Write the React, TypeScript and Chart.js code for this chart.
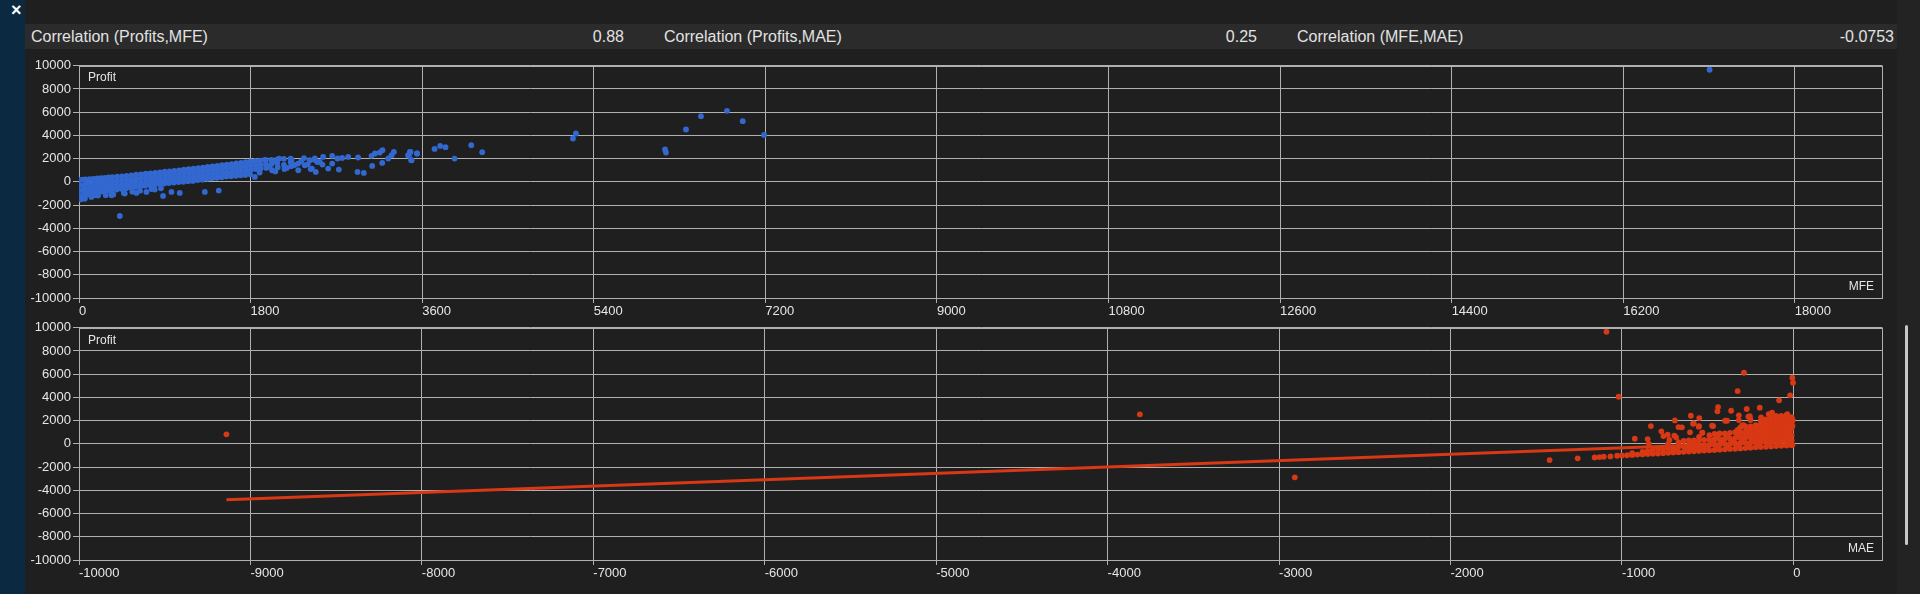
import React, { useEffect, useRef } from "react";
import { Chart, registerables } from "chart.js";

Chart.register(...registerables);

// ---------------- DATA ----------------
const correlationLabels = ["Correlation (Profits,MFE)", "Correlation (Profits,MAE)", "Correlation (MFE,MAE)"];
const correlationValues = ["0.88", "0.25", "-0.0753"];

const profitRange = [-10000, 10000];
const profitTickValues = [-10000, -8000, -6000, -4000, -2000, 0, 2000, 4000, 6000, 8000, 10000];
const mfeRange = [0, 18920];
const mfeTickValues = [0, 1800, 3600, 5400, 7200, 9000, 10800, 12600, 14400, 16200, 18000];
const maeRange = [-10000, 520];
const maeTickValues = [-10000, -9000, -8000, -7000, -6000, -5000, -4000, -3000, -2000, -1000, 0];

// MFE vs Profit: dense band
const mfeBand: [number, number][] = [
  [0,180],[0,-250],[0,-700],[5,-1150],[20,-1500],
  [40,190],[40,-300],[45,-760],[50,-1220],
  [70,210],[75,-190],[70,-640],[80,-1090],[60,-1440],
  [110,235],[110,-220],[115,-610],[105,-1010],[130,-1300],
  [150,255],[150,-150],[155,-540],[150,-950],
  [190,290],[190,-120],[195,-500],[185,-900],[200,-1180],
  [230,310],[230,-80],[235,-470],[225,-850],
  [270,345],[270,-40],[275,-420],[265,-800],[280,-1150],
  [310,380],[310,0],[315,-380],[305,-760],
  [350,400],[350,30],[355,-340],[345,-720],[360,-1080],
  [400,445],[400,60],[405,-300],[395,-660],
  [450,475],[450,100],[455,-250],[445,-600],[470,-950],
  [500,520],[500,150],[505,-200],[495,-550],
  [550,560],[550,190],[555,-150],[545,-480],[560,-850],
  [600,615],[600,250],[605,-100],[595,-420],
  [650,650],[650,300],[655,-60],[645,-380],[640,-760],
  [700,700],[700,340],[705,0],[695,-330],
  [750,735],[750,380],[755,40],[745,-280],[760,-620],
  [800,780],[800,430],[805,90],[795,-230],
  [850,820],[850,480],[855,130],[845,-180],[860,-560],
  [900,870],[900,520],[905,180],[895,-140],
  [950,910],[950,560],[955,220],[945,-100],
  [1000,950],[1000,620],[1005,270],[995,-60],
  [1050,990],[1050,660],[1055,320],[1045,-20],
  [1100,1050],[1100,700],[1105,360],[1095,10],
  [1150,1090],[1150,750],[1155,410],[1145,60],
  [1200,1130],[1200,800],[1205,450],[1195,80],
  [1250,1180],[1250,850],[1255,500],[1245,150],
  [1300,1230],[1300,900],[1305,550],[1295,190],
  [1350,1280],[1350,950],[1355,600],[1345,260],
  [1400,1330],[1400,1000],[1405,650],[1395,300],
  [1450,1380],[1450,1050],[1455,700],[1445,350],
  [1500,1430],[1500,1100],[1505,750],[1495,400],
  [1550,1480],[1550,1150],[1555,800],[1545,450],
  [1600,1530],[1600,1200],[1605,850],[1595,480],
  [1650,1580],[1650,1250],[1655,900],[1645,520],
  [1700,1640],[1700,1300],[1705,950],[1695,560],
  [1750,1690],[1750,1350],[1755,1000],[1745,600],
  [1800,1750],[1800,1400],[1805,1050],[1795,650],
  [1850,1800],[1850,1450],[1855,1100],[1845,420],
  [1900,1830],[1900,1500],[1905,1150],[1895,800],
  [1960,1860],[1960,1500],[1965,1200],
  [2020,1900],[2020,1550],[2025,1000],
  [2080,1930],[2080,1600],[2085,1250],
  [2150,1980],[2150,1450],[2155,1100],
  [2220,2000],[2220,1700],[2225,1350],
];

// MFE vs Profit: lower fringe under the band
const mfeFringe: [number, number][] = [
  [60,-1440],[165,-1155],[340,-1155],[480,-1010],[602,-955],[707,-870],
  [795,-665],[882,-1215],[970,-870],[1057,-955],[1320,-870],[1466,-750],[428,-2940],
];

// MFE vs Profit: scattered points beyond the band
const mfeSparse: [number, number][] = [
  [1950,1900],[2000,1350],[2030,1750],[2060,900],[2100,2000],[2180,1200],[2230,1900],
  [2260,1450],[2300,1000],[2330,1750],[2360,2050],[2400,1500],[2430,1100],[2470,1900],[2500,1700],
  [2298,1575],[2368,1430],[2421,1860],[2443,1145],[2474,2010],[2484,855],[2526,1715],[2554,1490],
  [2561,2150],[2656,2240],[2712,2010],[2761,2060],[2824,2150],[2928,2095],[2614,1145],[2656,1575],
  [2726,1060],[2922,855],[2988,770],[3069,2240],[3104,2440],[3156,2525],[3184,2725],[3076,1370],
  [3181,1630],[3244,2010],[3279,2295],[3303,2580],[3471,2580],[3461,2240],[3489,1860],[3548,2440],
  [3453,2293],[3478,2578],[3485,1862],[3545,2440],[3730,2836],[3789,3095],[3845,2983],[3940,2008],
  [4115,3155],[4230,2552],[5182,3732],[5213,4163],[6148,2784],[6158,2526],[6368,4508],[6525,5655],
  [6798,6112],[6963,5224],[7187,4043],[17106,9650],
];

// MAE vs Profit: dense mass near zero
const maeDense: [number, number][] = [
  [-1000,-1000],[-970,-980],[-940,-950],[-940,-800],[-910,-920],[-880,-900],[-880,-700],
  [-850,-870],[-850,-600],[-820,-850],[-820,-500],[-790,-830],[-790,-450],[-760,-800],[-760,-400],
  [-730,-770],[-730,-350],[-730,0],[-700,-740],[-700,-300],
  [-670,-720],[-670,-250],[-670,150],[-640,-690],[-640,-200],[-640,250],
  [-610,-660],[-610,-150],[-610,300],[-580,-640],[-580,-150],[-580,300],
  [-550,-610],[-550,-150],[-550,300],[-550,600],[-520,-580],[-520,-100],[-520,350],
  [-490,-560],[-490,-100],[-490,350],[-490,750],[-460,-530],[-460,-50],[-460,400],[-460,850],
  [-430,-500],[-430,-50],[-430,400],[-430,900],[-400,-470],[-400,0],[-400,450],[-400,900],
  [-370,-440],[-370,0],[-370,450],[-370,950],[-340,-420],[-340,50],[-340,500],[-340,1000],
  [-310,-390],[-310,50],[-310,500],[-310,1000],[-310,1400],
  [-280,-360],[-280,100],[-280,550],[-280,1050],[-280,1500],
  [-250,-330],[-250,100],[-250,550],[-250,1100],[-250,1500],
  [-220,-300],[-220,150],[-220,600],[-220,1100],[-220,1600],
  [-190,-280],[-190,150],[-190,600],[-190,1150],[-190,1700],[-190,2000],
  [-160,-250],[-160,200],[-160,650],[-160,1150],[-160,1700],[-160,2100],
  [-130,-220],[-130,200],[-130,650],[-130,1200],[-130,1750],[-130,2300],
  [-100,-190],[-100,250],[-100,700],[-100,1250],[-100,1800],[-100,2400],
  [-70,-170],[-70,250],[-70,700],[-70,1250],[-70,1800],[-70,2400],
  [-40,-140],[-40,300],[-40,750],[-40,1300],[-40,1850],[-40,2500],
  [-10,-110],[-10,300],[-10,750],[-10,1300],[-10,1850],[-10,2300],
];

// MAE vs Profit: in-between points of the dense mass
const maeDenseFill: [number, number][] = [
  [-505,-330],[-475,120],[-445,-280],[-445,620],[-415,170],[-385,-220],[-385,680],[-355,230],
  [-325,-180],[-325,720],[-325,1200],[-295,280],[-295,780],[-265,-130],[-265,820],[-265,1280],
  [-235,330],[-235,850],[-235,1350],[-205,-70],[-205,380],[-205,880],[-205,1400],[-175,420],
  [-175,920],[-175,1450],[-175,1900],[-145,-20],[-145,430],[-145,950],[-145,1480],[-145,2000],
  [-115,470],[-115,980],[-115,1520],[-115,2100],[-85,30],[-85,480],[-85,1000],[-85,1550],
  [-85,2150],[-55,520],[-55,1050],[-55,1580],[-55,2200],[-25,80],[-25,530],[-25,1050],
  [-25,1600],[-25,2100],[-5,-80],[-5,1550],[-620,-420],[-590,-400],[-560,-370],[-530,-350],
  [-680,-500],[-710,-520],[-760,-600],[-820,-680],[-600,60],[-560,80],
];

// MAE vs Profit: scattered points
const maeSparse: [number, number][] = [
  [-9140,820],[-3812,2540],[-2908,-2885],[-1090,9650],[-1019,4055],[-288,6120],[-325,4545],
  [-6,5690],[-2,5260],[-19,4175],[-83,3745],[-196,3110],[-272,3000],[-363,2850],[-439,3170],
  [-443,2800],[-318,2455],[-549,2220],[-598,2420],[-691,2020],[-831,1530],[-670,1445],[-650,1420],
  [-585,1730],[-550,1530],[-603,990],[-530,955],[-770,1075],[-925,440],[-850,415],[-843,0],
  [-758,670],[-733,785],[-694,700],[-684,560],[-723,330],[-474,1560],[-398,1990],[-299,1590],
  [-262,2335],[-252,2160],[-188,2280],[-144,2565],[-124,2680],[-35,2565],[-4,2050],[-318,2050],
  [-254,2390],[-250,2050],[-581,1765],[-552,1475],[-532,955],[-468,1530],[-387,1990],[-290,1620],
  [-1422,-1395],[-1258,-1250],[-1159,-1165],[-1131,-1135],[-1106,-1110],[-1067,-1080],[-1028,-1025],
];

// MAE vs Profit: fitted trend line end points
const maeTrend: [number, number][] = [[-9140,-4810],[0,210]];

// ---------------- STYLE ----------------
const BG = "#1f1f1f";
const GRID = "#b0b0b0";
const TEXT = "#e6e6e6";
const BLUE = "#3268d0";
const RED = "#d83814";
const FONT = "'Liberation Sans', Arial, sans-serif";

const toXY = (arr: [number, number][]) => arr.map(([x, y]) => ({ x, y }));

const framePlugin = {
  id: "frame",
  beforeDatasetsDraw(chart: any) {
    const { ctx, chartArea: a } = chart;
    ctx.save();
    ctx.strokeStyle = GRID;
    ctx.lineWidth = 1;
    ctx.strokeRect(Math.round(a.left) + 0.5, Math.round(a.top) + 0.5, Math.round(a.right - a.left) - 1, Math.round(a.bottom - a.top));
    ctx.restore();
  },
};

function makeOptions(xRange: number[], xTicks: number[]) {
  return {
    animation: false,
    responsive: false,
    maintainAspectRatio: false,
    layout: { padding: { top: 10.7, right: 12.5, bottom: 0, left: 0 } },
    plugins: { legend: { display: false }, tooltip: { enabled: false }, title: { display: false } },
    scales: {
      x: {
        type: "linear",
        min: xRange[0],
        max: xRange[1],
        afterBuildTicks: (s: any) => { s.ticks = xTicks.map((v) => ({ value: v })); },
        afterFit: (s: any) => { s.height = 23; },
        ticks: {
          autoSkip: false,
          maxRotation: 0,
          align: "start",
          padding: 1,
          color: TEXT,
          font: { family: FONT, size: 13 },
          callback: (v: any) => String(v),
        },
        grid: { color: GRID, lineWidth: 1, tickLength: 5 },
        border: { color: GRID },
      },
      y: {
        type: "linear",
        min: profitRange[0],
        max: profitRange[1],
        afterBuildTicks: (s: any) => { s.ticks = profitTickValues.map((v) => ({ value: v })); },
        afterFit: (s: any) => { s.width = 54; },
        ticks: {
          autoSkip: false,
          padding: 2,
          color: TEXT,
          font: { family: FONT, size: 13 },
          callback: (v: any) => String(v),
        },
        grid: { color: GRID, lineWidth: 1, tickLength: 6 },
        border: { color: GRID },
      },
    },
  } as any;
}

function ScatterCanvas({ top, datasets, xRange, xTicks }: { top: number; datasets: any[]; xRange: number[]; xTicks: number[] }) {
  const ref = useRef<HTMLCanvasElement | null>(null);
  useEffect(() => {
    if (!ref.current) return;
    const chart = new Chart(ref.current, {
      type: "scatter",
      data: { datasets },
      options: makeOptions(xRange, xTicks),
      plugins: [framePlugin],
    } as any);
    return () => chart.destroy();
  }, []);
  return (
    <canvas
      ref={ref}
      width={1870}
      height={266}
      style={{ position: "absolute", left: 25, top, width: 1870, height: 266 }}
    />
  );
}

const pointStyle = (color: string) => ({
  backgroundColor: color,
  borderColor: color,
  borderWidth: 0,
  pointRadius: 2.9,
  pointHoverRadius: 2.9,
  showLine: false,
});

export default function App() {
  const topSets = [
    { label: "band", data: toXY(mfeBand), ...pointStyle(BLUE) },
    { label: "fringe", data: toXY(mfeFringe), ...pointStyle(BLUE) },
    { label: "sparse", data: toXY(mfeSparse), ...pointStyle(BLUE) },
  ];
  const bottomSets = [
    { label: "dense", data: toXY(maeDense), ...pointStyle(RED) },
    { label: "fill", data: toXY(maeDenseFill), ...pointStyle(RED) },
    { label: "sparse", data: toXY(maeSparse), ...pointStyle(RED) },
    {
      label: "trend",
      type: "line",
      data: toXY(maeTrend),
      showLine: true,
      borderColor: RED,
      backgroundColor: RED,
      borderWidth: 3,
      pointRadius: 0,
      fill: false,
    },
  ];

  const labelStyle: React.CSSProperties = {
    position: "absolute",
    color: TEXT,
    fontFamily: FONT,
    fontSize: 12,
    lineHeight: "14px",
    whiteSpace: "nowrap",
    pointerEvents: "none",
  };
  const barText: React.CSSProperties = {
    position: "absolute",
    top: 0,
    lineHeight: "25px",
    fontFamily: FONT,
    fontSize: 16,
    color: "#e2e2e2",
    whiteSpace: "nowrap",
  };
  const colStarts = [31, 664, 1297];
  const valueEnds = [624, 1257, 1894];

  return (
    <div style={{ position: "absolute", left: 0, top: 0, width: 1920, height: 594, background: BG, overflow: "hidden" }}>
      {/* left navy strip */}
      <div style={{ position: "absolute", left: 0, top: 0, width: 25, height: 594, background: "#0c2942" }} />
      <div style={{ position: "absolute", left: 11, top: 0, color: "#ffffff", fontFamily: FONT, fontWeight: "bold", fontSize: 18 }}>×</div>
      {/* right strip + scrollbar */}
      <div style={{ position: "absolute", left: 1897, top: 0, width: 23, height: 594, background: "#232323" }} />
      <div style={{ position: "absolute", left: 1905, top: 325, width: 3, height: 220, background: "#c8c8c8", borderRadius: 2 }} />
      {/* correlation bar */}
      <div style={{ position: "absolute", left: 25, top: 24, width: 1872, height: 25, background: "#2b2b2b" }}>
        {correlationLabels.map((t, i) => (
          <div key={"l" + i} style={{ ...barText, left: colStarts[i] - 25 }}>{t}</div>
        ))}
        {correlationValues.map((t, i) => (
          <div key={"v" + i} style={{ ...barText, right: 1872 - (valueEnds[i] - 25) }}>{t}</div>
        ))}
      </div>

      <ScatterCanvas top={55} datasets={topSets} xRange={mfeRange} xTicks={mfeTickValues} />
      <ScatterCanvas top={317} datasets={bottomSets} xRange={maeRange} xTicks={maeTickValues} />

      <div style={{ ...labelStyle, left: 88, top: 70 }}>Profit</div>
      <div style={{ ...labelStyle, right: 1920 - 1874, top: 279 }}>MFE</div>
      <div style={{ ...labelStyle, left: 88, top: 333 }}>Profit</div>
      <div style={{ ...labelStyle, right: 1920 - 1874, top: 541 }}>MAE</div>
    </div>
  );
}
